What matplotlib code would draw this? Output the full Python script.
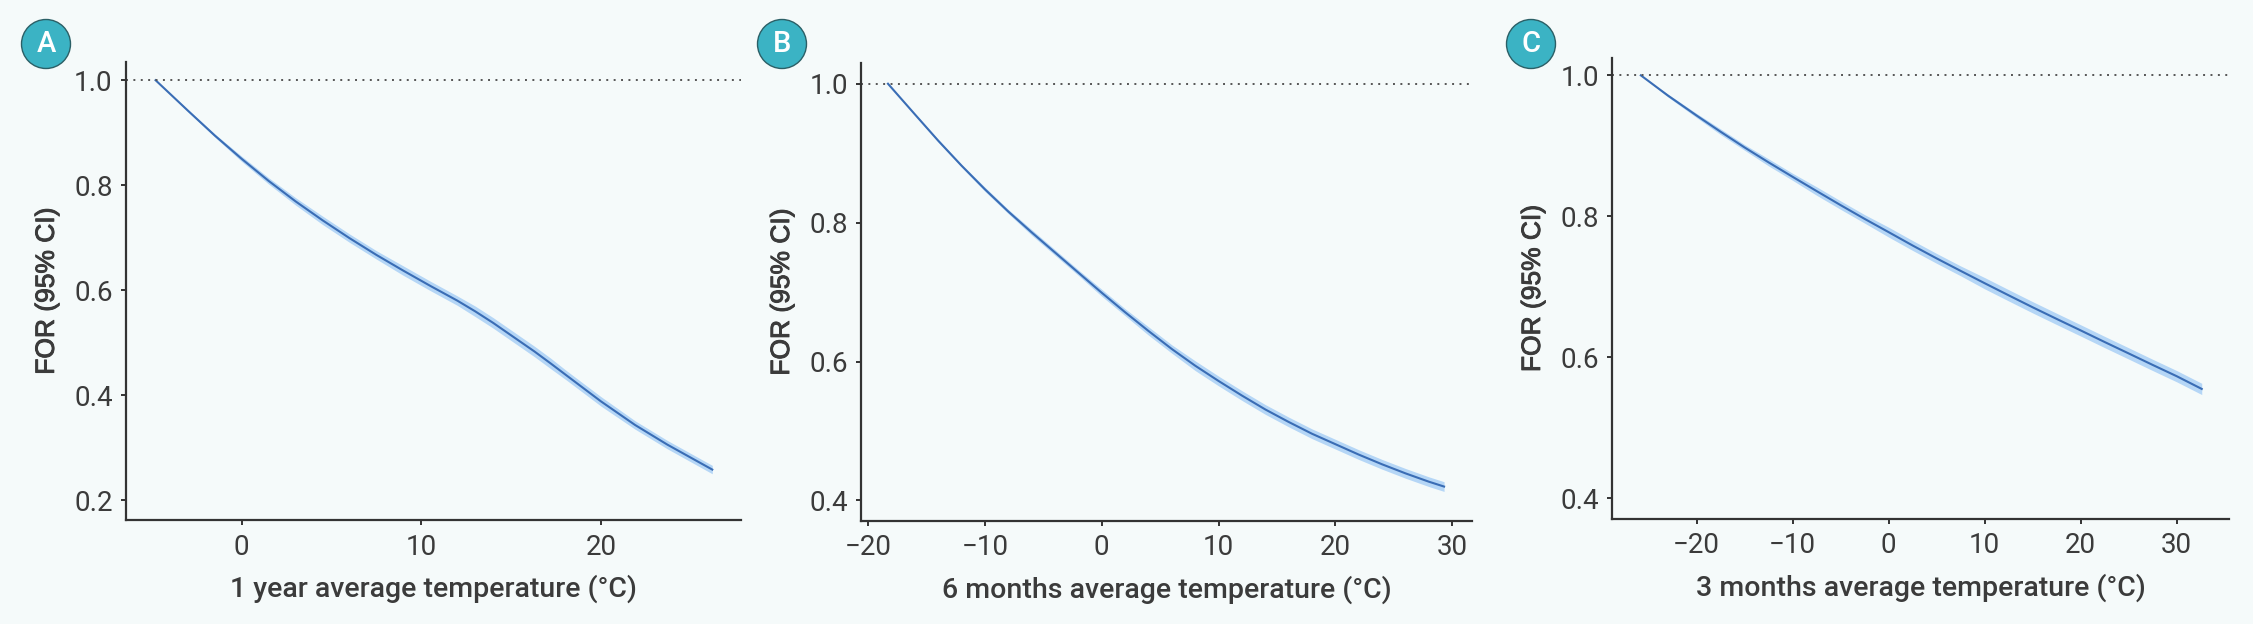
import matplotlib.pyplot as plt
import matplotlib.patheffects as pe
from matplotlib.patches import Circle

# panel A: 1 year average
a_temp = [-4.8, -3, -1.5, 0, 1.5, 3, 4.5, 6, 7.5, 9, 10.5, 12, 13, 14, 14.4, 16.3, 17.2, 18.1, 20, 21.9, 23.7, 26.2]
a_for = [1.000, 0.942, 0.8945, 0.850, 0.808, 0.769, 0.733, 0.699, 0.667, 0.637, 0.608, 0.580, 0.5595, 0.5375, 0.528, 0.483, 0.4603, 0.437, 0.388, 0.343, 0.3055, 0.258]
a_ci = [0.000, 0.002, 0.003, 0.005, 0.006, 0.007, 0.008, 0.008, 0.008, 0.009, 0.009, 0.009, 0.010, 0.010, 0.010, 0.010, 0.010, 0.009, 0.009, 0.008, 0.008, 0.008]

# panel B: 6 months average
b_temp = [-18.3, -16, -14, -12, -10, -8, -6, -4, -2, 0, 2, 4, 6, 8, 10, 12, 14, 16, 18, 20, 22, 24, 26, 28, 29.3]
b_for = [1.000, 0.956, 0.918, 0.882, 0.848, 0.816, 0.786, 0.757, 0.728, 0.699, 0.671, 0.644, 0.618, 0.594, 0.572, 0.551, 0.531, 0.513, 0.496, 0.481, 0.466, 0.452, 0.439, 0.427, 0.420]
b_ci = [0.000, 0.001, 0.002, 0.002, 0.003, 0.003, 0.004, 0.004, 0.004, 0.005, 0.005, 0.006, 0.006, 0.007, 0.007, 0.007, 0.007, 0.007, 0.007, 0.007, 0.007, 0.007, 0.007, 0.007, 0.007]

# panel C: 3 months average
c_temp = [-25.8, -23, -20, -17.5, -15, -12.5, -10, -7.5, -5, -2.5, 0, 2.5, 5, 7.5, 10, 12.5, 15, 17.5, 20, 22.5, 25, 27.5, 30, 32.6]
c_for = [1.000, 0.9715, 0.943, 0.920, 0.8977, 0.8765, 0.856, 0.8358, 0.8158, 0.7963, 0.7775, 0.7585, 0.7402, 0.7225, 0.705, 0.6878, 0.6708, 0.6543, 0.638, 0.6215, 0.6053, 0.589, 0.573, 0.555]
c_ci = [0.000, 0.002, 0.003, 0.004, 0.004, 0.005, 0.005, 0.006, 0.006, 0.006, 0.007, 0.007, 0.007, 0.007, 0.008, 0.008, 0.008, 0.008, 0.008, 0.008, 0.008, 0.008, 0.008, 0.008]

panels = [
    ("A", a_temp, a_for, a_ci, "1 year average temperature (°C)",
     [0, 10, 20], [0.2, 0.4, 0.6, 0.8, 1.0], (-6.45, 27.8), (0.161, 1.035),
     [0.0559, 0.1659, 0.2730, 0.7350]),
    ("B", b_temp, b_for, b_ci, "6 months average temperature (°C)",
     [-20, -10, 0, 10, 20, 30], [0.4, 0.6, 0.8, 1.0], (-20.6, 31.7), (0.370, 1.030),
     [0.3822, 0.1646, 0.2712, 0.7346]),
    ("C", c_temp, c_for, c_ci, "3 months average temperature (°C)",
     [-20, -10, 0, 10, 20, 30], [0.4, 0.6, 0.8, 1.0], (-28.8, 35.45), (0.370, 1.025),
     [0.7155, 0.1678, 0.2739, 0.7397]),
]

bg = "#F5FAFA"
txt = "#3B3B3B"
line_col = "#3A6DB5"
band_col = "#B5D6F6"
badge_x = [46, 782, 1531]

fig = plt.figure(figsize=(22.53, 6.24), dpi=100, facecolor=bg)

for (tag, xs, ys, ci, xlabel, xt, yt, xl, yl, pos), bx in zip(panels, badge_x):
    ax = fig.add_axes(pos)
    ax.set_facecolor(bg)
    lo = [y - c for y, c in zip(ys, ci)]
    hi = [y + c for y, c in zip(ys, ci)]
    ax.fill_between(xs, lo, hi, color=band_col, lw=0)
    ax.plot(xs, ys, color=line_col, lw=1.5, solid_joinstyle="round")
    ax.axhline(1.0, color="#555555", lw=1.4, ls=(0, (1, 2.8)))
    ax.set_xlim(*xl)
    ax.set_ylim(*yl)
    ax.set_xticks(xt)
    ax.set_xticklabels([f"{v:g}".replace("-", "\u2212") for v in xt])
    ax.set_yticks(yt)
    ax.set_yticklabels([f"{v:.1f}" for v in yt])
    for s in ["top", "right"]:
        ax.spines[s].set_visible(False)
    for s in ["left", "bottom"]:
        ax.spines[s].set_color("#333333")
        ax.spines[s].set_linewidth(1.6)
    ax.tick_params(length=3.5, width=1.4, color="#333333", pad=6,
                   labelsize=20, labelcolor=txt)
    for lab in ax.get_xticklabels() + ax.get_yticklabels():
        lab.set_fontfamily("Roboto")
    ax.set_xlabel(xlabel, fontsize=20.5, fontfamily="Roboto", fontweight="medium",
                  color=txt, labelpad=10)
    yl_txt = ax.set_ylabel("FOR (95% CI)", fontsize=19, fontfamily="Liberation Sans",
                           color=txt, labelpad=11)
    yl_txt.set_path_effects([pe.withStroke(linewidth=0.7, foreground=txt)])

    # panel badge
    cx, cy = bx / 100, (624 - 44) / 100
    fig.add_artist(Circle((cx, cy), 0.245, transform=fig.dpi_scale_trans,
                          facecolor="#3BB3C4", edgecolor="#2B5F66", lw=1.0))
    fig.text(cx * 100 / 2253, cy * 100 / 624, tag, ha="center", va="center",
             fontsize=21, fontfamily="Roboto", fontweight="medium", color="white")

plt.savefig("out.png", dpi=100, facecolor=bg)
plt.close()
